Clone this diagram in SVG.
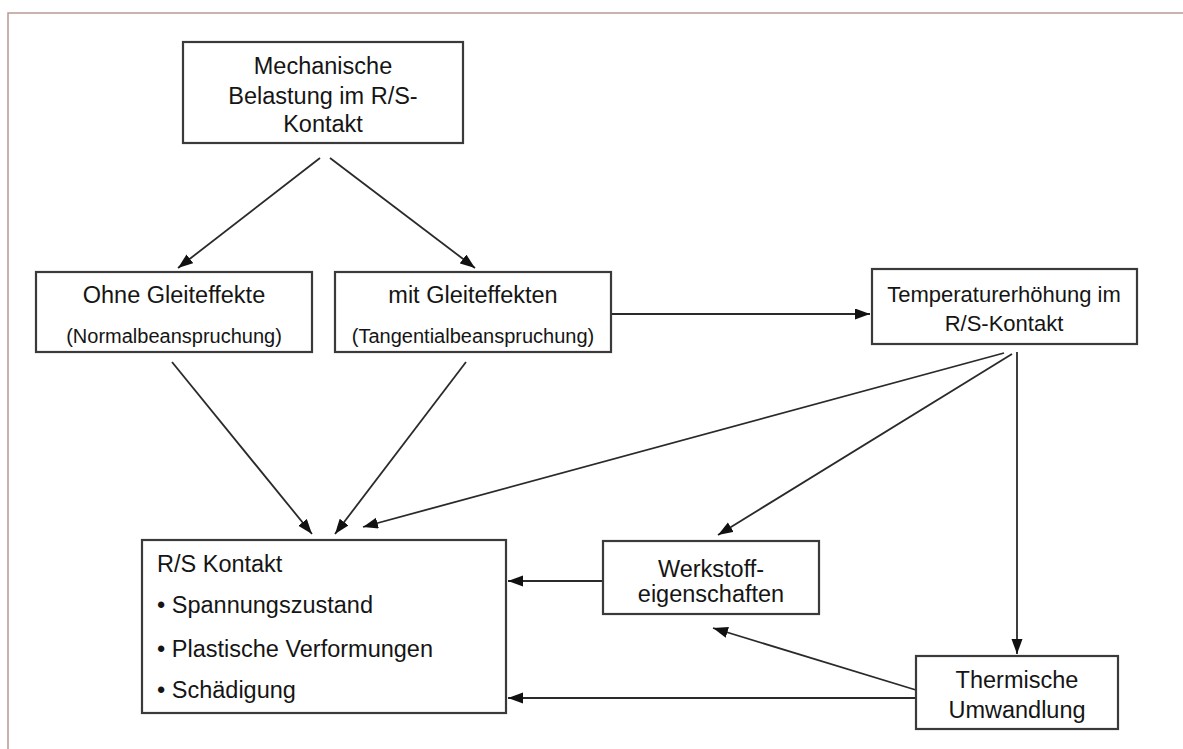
<svg xmlns="http://www.w3.org/2000/svg" width="1183" height="749" viewBox="0 0 1183 749">
<defs>
<style>
.box{fill:#fff;stroke:#3a3a3a;stroke-width:2.2}
.t{font-family:"Liberation Sans",Arial,sans-serif;font-size:23.5px;fill:#151515}
.tm{font-family:"Liberation Sans",Arial,sans-serif;font-size:22px;fill:#151515}
.s{font-family:"Liberation Sans",Arial,sans-serif;font-size:20px;fill:#151515}
.c{text-anchor:middle}
.ln{stroke:#2a2a2a;stroke-width:1.8;fill:none;marker-end:url(#ah)}
</style>
<marker id="ah" markerUnits="userSpaceOnUse" markerWidth="16" markerHeight="12" refX="15" refY="5.5" orient="auto">
<path d="M0,0 L15,5.5 L0,11 z" fill="#111"/>
</marker>
</defs>
<rect x="0" y="0" width="1183" height="749" fill="#fff"/>
<rect x="8" y="13" width="1200" height="800" fill="none" stroke="#b99a92" stroke-width="1.5"/>

<g id="connectors">
<line class="ln" x1="320" y1="158" x2="178" y2="268"/>
<line class="ln" x1="330" y1="158" x2="475" y2="268"/>
<line class="ln" x1="611" y1="314" x2="870" y2="314"/>
<line class="ln" x1="172" y1="362" x2="312" y2="534"/>
<line class="ln" x1="466" y1="362" x2="335" y2="534"/>
<line class="ln" x1="1004" y1="353" x2="363" y2="527"/>
<line class="ln" x1="1012" y1="354" x2="718" y2="535"/>
<line class="ln" x1="1017" y1="352" x2="1017" y2="654"/>
<line class="ln" x1="603" y1="581" x2="508" y2="581"/>
<line class="ln" x1="916" y1="690" x2="713" y2="628"/>
<line class="ln" x1="916" y1="698" x2="508" y2="698"/>
</g>

<g id="mechanische">
<rect class="box" x="183" y="42" width="280" height="101"/>
<text class="t c" x="323" y="74">Mechanische</text>
<text class="t c" x="323" y="104">Belastung im R/S-</text>
<text class="t c" x="323" y="132">Kontakt</text>
</g>

<g id="ohne">
<rect class="box" x="36" y="272" width="276" height="80"/>
<text class="t c" x="174" y="303">Ohne Gleiteffekte</text>
<text class="s c" x="174" y="343">(Normalbeanspruchung)</text>
</g>

<g id="mit">
<rect class="box" x="335" y="272" width="276" height="80"/>
<text class="t c" x="473" y="303">mit Gleiteffekten</text>
<text class="s c" x="473" y="343">(Tangentialbeanspruchung)</text>
</g>

<g id="temperatur">
<rect class="box" x="872" y="269" width="265" height="75"/>
<text class="tm c" x="1004" y="302">Temperaturerhöhung im</text>
<text class="tm c" x="1004" y="331">R/S-Kontakt</text>
</g>

<g id="rs-kontakt">
<rect class="box" x="142" y="540" width="364" height="173"/>
<text class="t" x="157" y="572">R/S Kontakt</text>
<text class="t" x="157" y="613">• Spannungszustand</text>
<text class="t" x="157" y="657">• Plastische Verformungen</text>
<text class="t" x="157" y="698">• Schädigung</text>
</g>

<g id="werkstoff">
<rect class="box" x="603" y="541" width="216" height="73"/>
<text class="t c" x="711" y="577">Werkstoff-</text>
<text class="t c" x="711" y="602">eigenschaften</text>
</g>

<g id="thermische">
<rect class="box" x="916" y="656" width="202" height="73"/>
<text class="t c" x="1017" y="688">Thermische</text>
<text class="t c" x="1017" y="718">Umwandlung</text>
</g>
</svg>
